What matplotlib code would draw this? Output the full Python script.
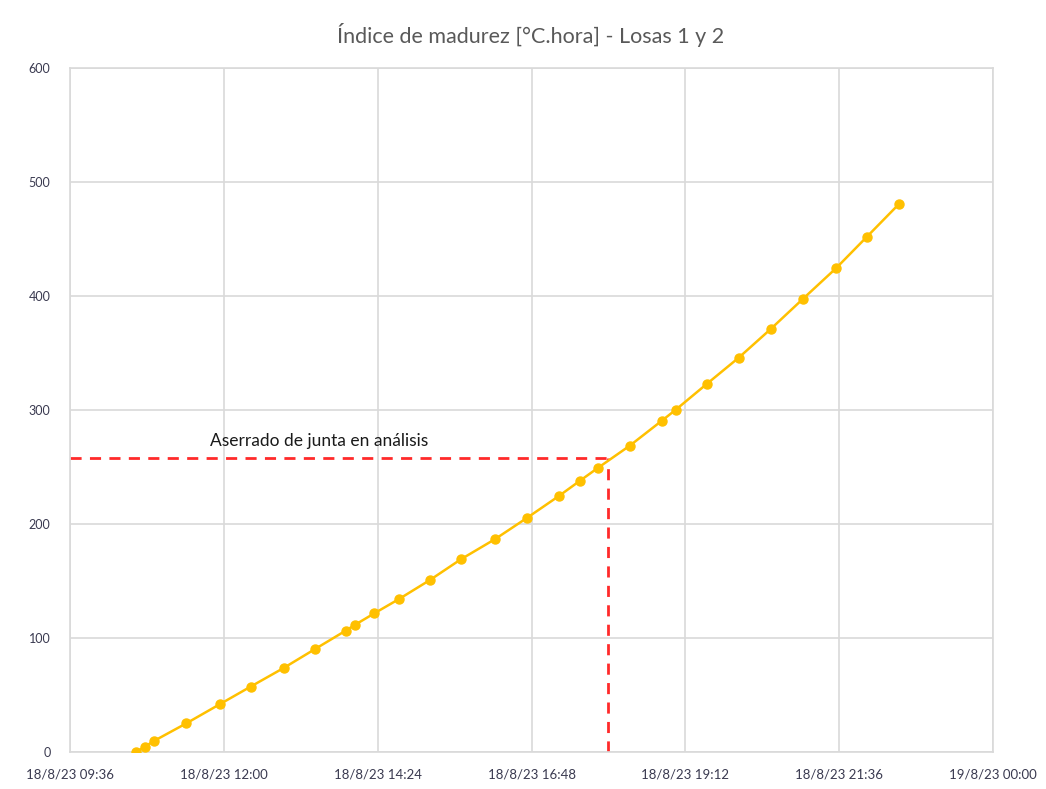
import matplotlib
matplotlib.use('Agg')
import matplotlib.pyplot as plt
import matplotlib.dates as mdates
from datetime import datetime, timedelta

# datos (hora del 18/8/23, índice de madurez)
horas = ['10:38', '10:46', '10:55', '11:25', '11:56', '12:25', '12:56', '13:25',
         '13:54', '14:03', '14:21', '14:44', '15:13', '15:42', '16:14', '16:44',
         '17:14', '17:33', '17:50', '18:20', '18:50', '19:03', '19:32', '20:02',
         '20:32', '21:02', '21:33', '22:02', '22:32']
madurez = [0, 4.6, 9.9, 25.2, 41.8, 57.3, 73.7, 90.1,
           106.4, 111.7, 121.7, 134.2, 150.9, 169.1, 186.8, 205.5,
           224.8, 237.7, 249.1, 268.7, 290.6, 300.2, 322.8, 345.9,
           371.1, 397.4, 424.3, 452.0, 480.7]

# aserrado de junta
hora_aserrado = '18:00'
madurez_aserrado = 258
texto_aserrado = 'Aserrado de junta en análisis'
titulo = 'Índice de madurez [°C.hora] - Losas 1 y 2'

dia = datetime(2023, 8, 18)
def a_fecha(h):
    hh, mm = h.split(':')
    return dia + timedelta(hours=int(hh), minutes=int(mm))

tiempos = [a_fecha(h) for h in horas]
t_ini = dia + timedelta(hours=9, minutes=36)
t_fin = dia + timedelta(days=1)
ticks = [t_ini + timedelta(hours=2.4 * i) for i in range(7)]

plt.rcParams['font.family'] = ['Lato', 'DejaVu Sans']

fig = plt.figure(figsize=(10.46, 7.89), dpi=100)
ax = fig.add_axes([70 / 1046, 1 - 752 / 789, 923 / 1046, 684 / 789])

grid_c = '#d9d9d9'
ax.grid(True, color=grid_c, linewidth=1.2)
ax.set_axisbelow(True)
for s in ax.spines.values():
    s.set_color(grid_c)
    s.set_linewidth(1.2)

ax.plot(tiempos, madurez, color='#FFC000', linewidth=1.8, marker='o',
        markersize=6.5, zorder=3)

t_as = a_fecha(hora_aserrado)
ax.plot([t_ini, t_as], [madurez_aserrado, madurez_aserrado], color='#FF2A2A',
        linewidth=2.0, dashes=(4, 3), zorder=2)
ax.plot([t_as, t_as], [0, madurez_aserrado], color='#FF2A2A',
        linewidth=2.0, dashes=(4, 3), zorder=2)
ax.text(a_fecha('11:47'), 273, texto_aserrado, fontsize=12.5, color='#1a1a1a',
        ha='left', va='center')

ax.set_xlim(t_ini, t_fin)
ax.set_ylim(0, 600)
ax.set_yticks(range(0, 601, 100))
ax.set_xticks(ticks)
ax.xaxis.set_major_formatter(plt.FuncFormatter(
    lambda x, pos: (lambda d: f'{d.day}/{d.month}/{d.strftime("%y %H:%M")}')(mdates.num2date(x))))
ax.tick_params(length=0, labelsize=9.5, colors='#3a3a50', pad=12)
ax.tick_params(axis='y', labelsize=9, pad=14)

fig.text(531 / 1046, 1 - 35 / 789, titulo, fontsize=15.5, color='#595959',
         ha='center', va='center')

fig.savefig('out.png', dpi=100, facecolor='white')
